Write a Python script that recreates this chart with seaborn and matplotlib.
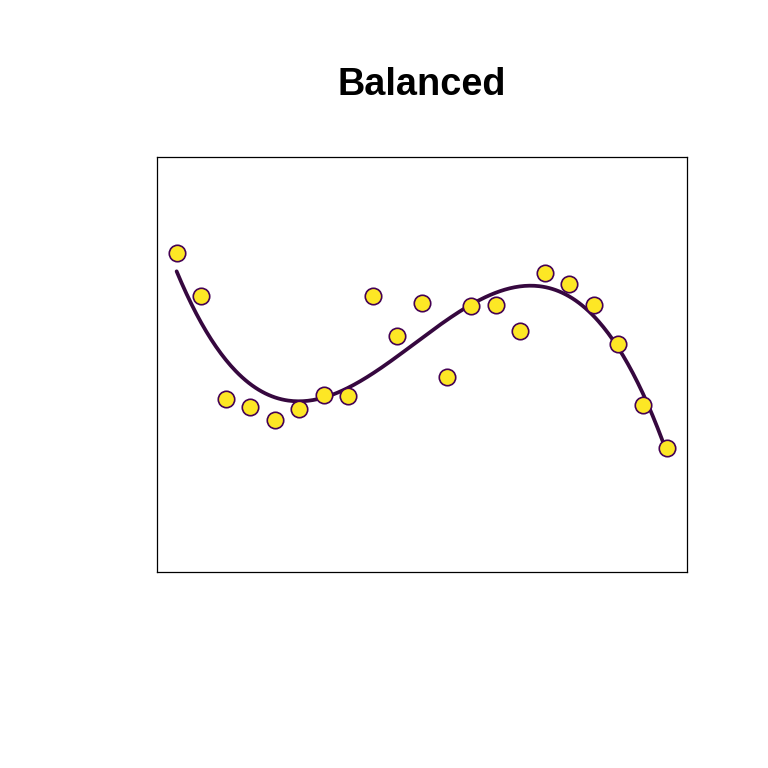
import numpy as np
import pandas as pd
import matplotlib
matplotlib.use("Agg")
import matplotlib.pyplot as plt
import seaborn as sns

sns.set_style("white")
plt.rcParams['font.family'] = ['Liberation Sans', 'DejaVu Sans']

### data
x_vals = list(range(1, 22))
y_vals = [0.806, 0.495, -0.249, -0.307, -0.401, -0.322, -0.220, -0.228, 0.495, 0.206,
          0.445, -0.090, 0.423, 0.430, 0.242, 0.661, 0.582, 0.430, 0.148, -0.293, -0.604]
title = "Balanced"

pts = pd.DataFrame({"x": x_vals, "y": y_vals})

### cubic fit through the points
coef = np.polyfit(pts.x, pts.y, 3)
xs = np.linspace(1, 21, 300)
fit = pd.DataFrame({"x": xs, "y": np.polyval(coef, xs)})

fig = plt.figure(figsize=(7.68, 7.68), dpi=100)
ax = fig.add_axes([157/768, 1-572/768, 530/768, 415/768])

sns.lineplot(data=fit, x="x", y="y", ax=ax, color="#36083f", linewidth=2.7)
sns.scatterplot(data=pts, x="x", y="y", ax=ax, color="#FDE725", edgecolor="#440154",
                s=140, linewidth=1.2, zorder=3)

ax.set_xlim(0.2, 21.8)
ax.set_ylim(-1.5, 1.5)
ax.set_xticks([])
ax.set_yticks([])
ax.set_xlabel("")
ax.set_ylabel("")
for s in ax.spines.values():
    s.set_color("black")
    s.set_linewidth(0.9)

fig.text(422/768, 1-95/768, title, ha="center", va="baseline",
         fontsize=27.3, fontweight="bold", color="black")

fig.savefig("out.png", dpi=100)
